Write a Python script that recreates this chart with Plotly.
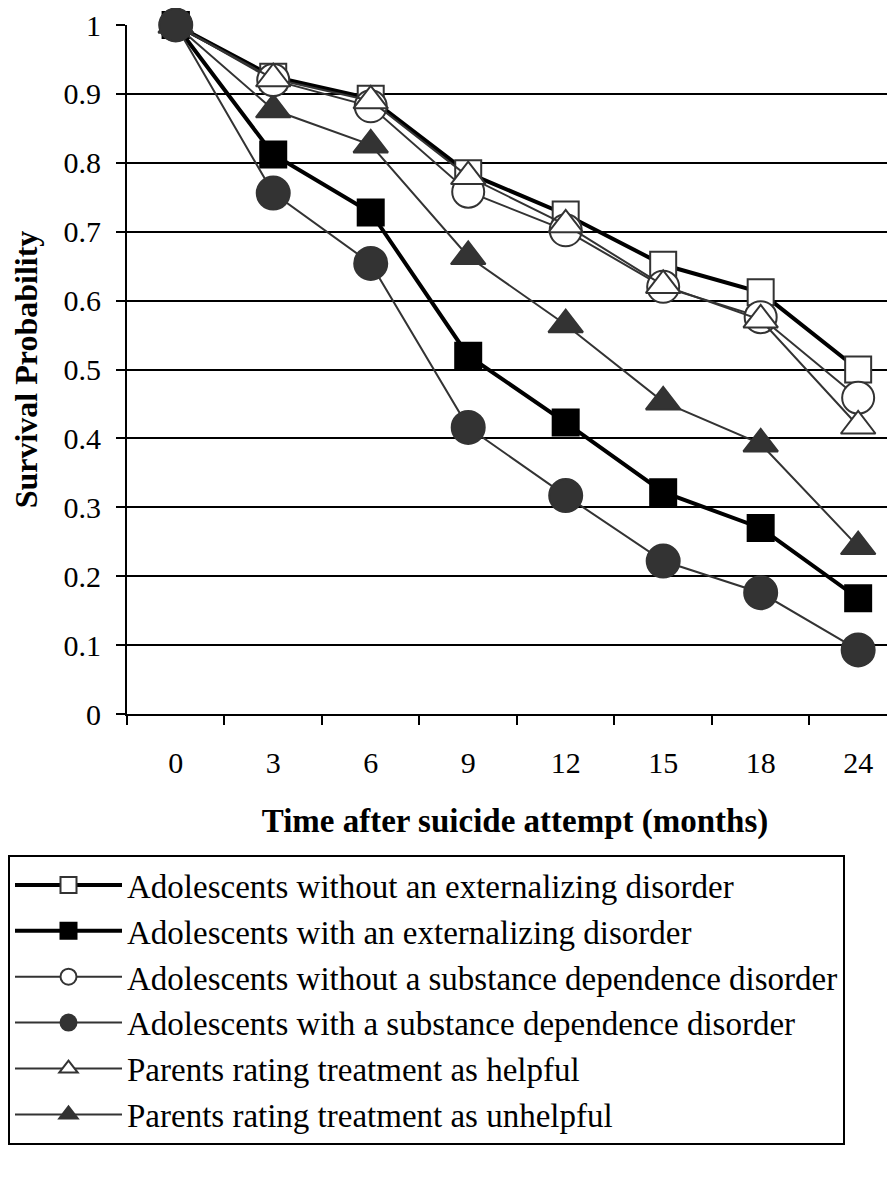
import plotly.graph_objects as go

months = ["0", "3", "6", "9", "12", "15", "18", "24"]

no_ext = [1.0, 0.925, 0.893, 0.785, 0.725, 0.652, 0.612, 0.50]
with_ext = [1.0, 0.812, 0.728, 0.52, 0.423, 0.322, 0.27, 0.168]
no_sub = [1.0, 0.92, 0.882, 0.758, 0.702, 0.62, 0.576, 0.459]
with_sub = [1.0, 0.756, 0.654, 0.416, 0.317, 0.222, 0.176, 0.093]
helpful = [1.0, 0.922, 0.89, 0.78, 0.71, 0.622, 0.572, 0.418]
unhelpful = [1.0, 0.877, 0.826, 0.664, 0.565, 0.453, 0.392, 0.243]

names = [
    "Adolescents without an externalizing disorder",
    "Adolescents with an externalizing disorder",
    "Adolescents without a substance dependence disorder",
    "Adolescents with a substance dependence disorder",
    "Parents rating treatment as helpful",
    "Parents rating treatment as unhelpful",
]

DARK = "#333333"
fig = go.Figure()

def add(y, name, rank, lc, lw, sym, ms, fill, outline):
    fig.add_trace(go.Scatter(
        x=months, y=y, name=name, legendrank=rank, mode="lines+markers",
        line=dict(color=lc, width=lw),
        marker=dict(symbol=sym, size=ms, color=fill, line=dict(color=outline, width=2)),
        cliponaxis=False,
    ))

# drawing order (z-order) chosen to match reference overlaps; legend order via legendrank
add(no_ext, names[0], 1, "#000000", 4, "square", 26, "white", DARK)
add(with_ext, names[1], 2, "#000000", 4, "square", 26, "#000000", "#000000")
add(unhelpful, names[5], 6, DARK, 2, "triangle-up", 30, DARK, DARK)
add(no_sub, names[2], 3, DARK, 2, "circle", 32, "white", DARK)
add(helpful, names[4], 5, DARK, 2, "triangle-up", 30, "white", DARK)
add(with_sub, names[3], 4, DARK, 2, "circle", 33, DARK, DARK)

FONT = "Liberation Serif"

fig.update_layout(
    width=895, height=1181,
    margin=dict(l=119, r=0, t=17, b=475),
    paper_bgcolor="white", plot_bgcolor="white",
    font=dict(family=FONT, color="black"),
    showlegend=True,
    legend=dict(
        x=-0.1534, xanchor="left", y=-0.2046, yanchor="top",
        font=dict(family=FONT, size=33, color="black"),
        bordercolor="black", borderwidth=2, bgcolor="white",
        itemwidth=107, tracegroupgap=0,
    ),
    xaxis=dict(
        type="category", range=[-0.5, 7.46],
        showgrid=False, zeroline=False,
        showline=True, linecolor="black", linewidth=2,
        ticks="outside", tickson="boundaries", ticklen=9, tickwidth=2, tickcolor="black",
        tickfont=dict(family=FONT, size=30, color="black"),
        ticklabelstandoff=21,
        title=dict(text="<b>Time after suicide attempt (months)</b>",
                   font=dict(family=FONT, size=33, color="black"), standoff=31),
    ),
    yaxis=dict(
        range=[0, 1], dtick=0.1, tick0=0,
        showgrid=True, gridcolor="black", gridwidth=2,
        zeroline=False,
        showline=True, linecolor="black", linewidth=2,
        ticks="outside", ticklen=9, tickwidth=2, tickcolor="black",
        tickfont=dict(family=FONT, size=30, color="black"),
        ticklabelstandoff=9,
        title=dict(text="<b>Survival Probability</b>",
                   font=dict(family=FONT, size=32, color="black"), standoff=20),
    ),
)

fig.write_html("out.html")
